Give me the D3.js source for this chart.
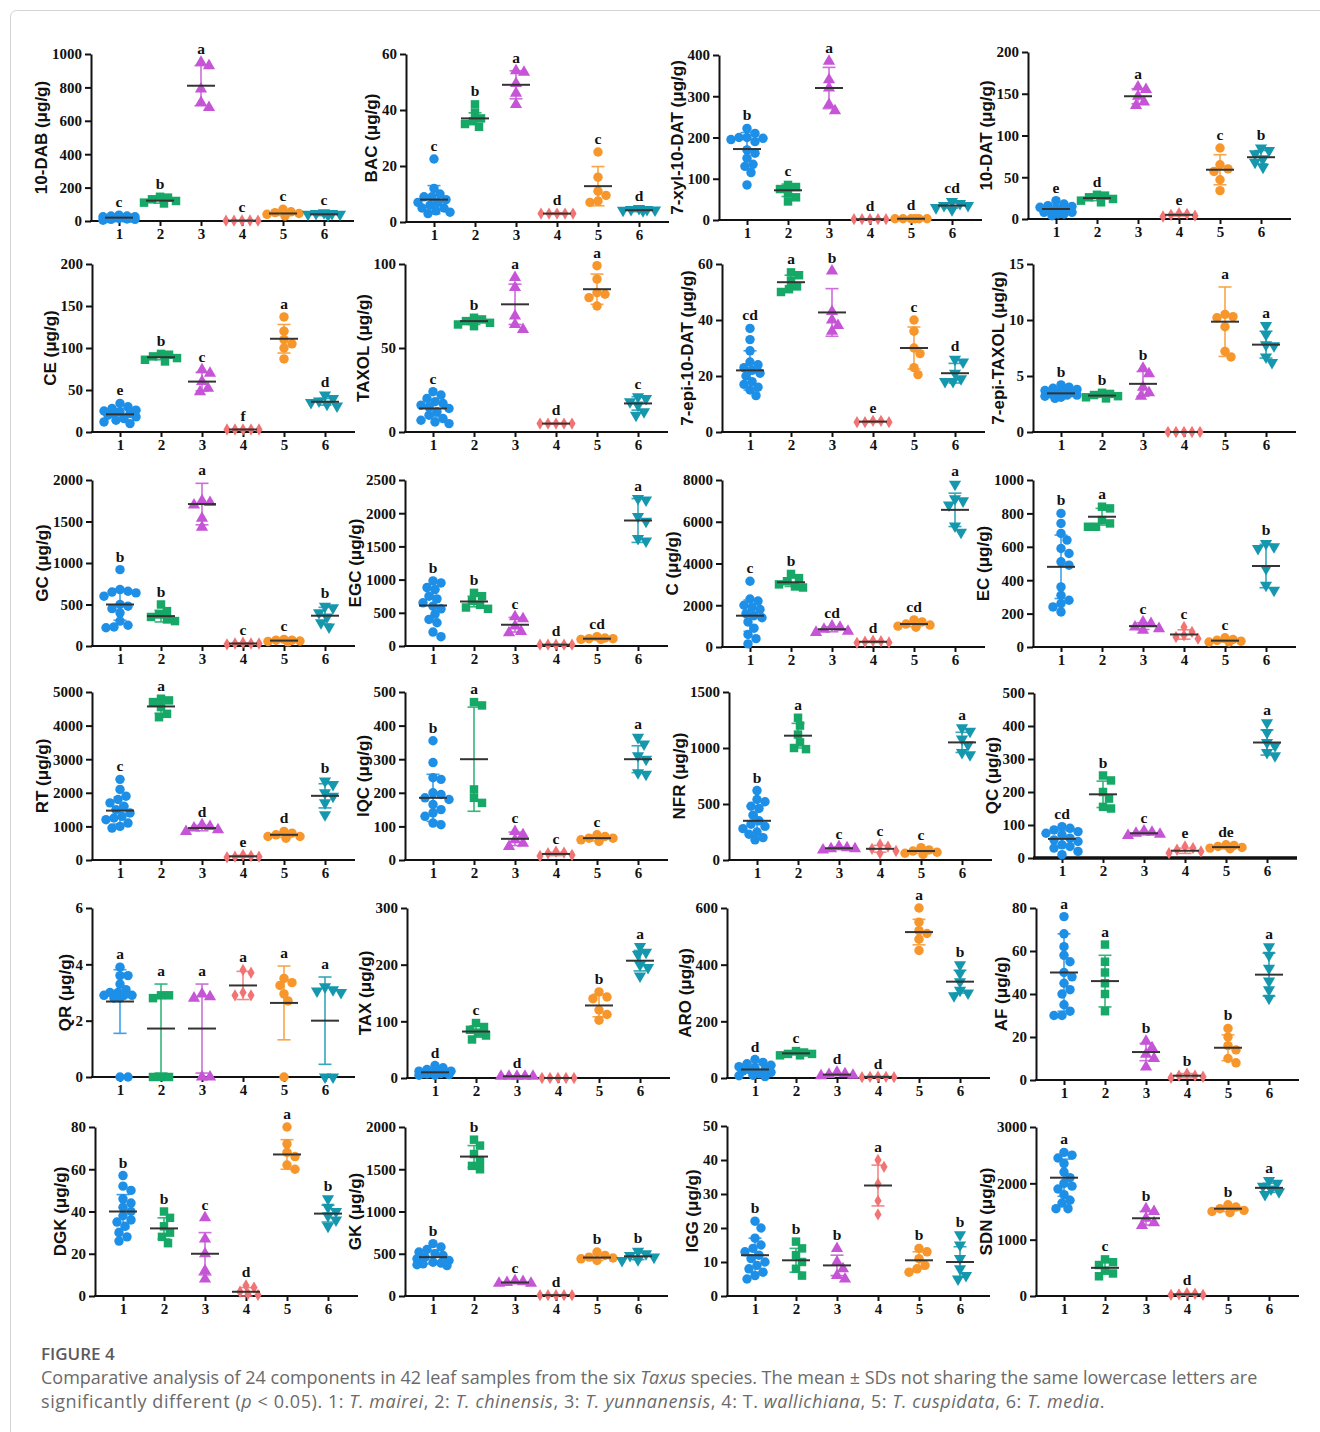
<!DOCTYPE html>
<html>
<head>
<meta charset="utf-8">
<script src="https://cdn.jsdelivr.net/npm/d3@7"></script>
<style>
body{margin:0;background:#fff;}
svg{display:block;}
</style>
</head>
<body>
<div id="vis"></div>
<script>
// six Taxus species (groups 1..6)
const groupLabels = ['1','2','3','4','5','6']
const groupColors = ['#1e8fe6','#16a866','#c654d6','#f27373','#f7962b','#1597ad']

const panelNames = ['10-DAB','BAC','7-xyl-10-DAT','10-DAT',
  'CE','TAXOL','7-epi-10-DAT','7-epi-TAXOL',
  'GC','EGC','C','EC',
  'RT','IQC','NFR','QC',
  'QR','TAX','ARO','AF',
  'DGK','GK','IGG','SDN']

const yTicks = [
  [0,200,400,600,800,1000],[0,20,40,60],[0,100,200,300,400],[0,50,100,150,200],
  [0,50,100,150,200],[0,50,100],[0,20,40,60],[0,5,10,15],
  [0,500,1000,1500,2000],[0,500,1000,1500,2000,2500],[0,2000,4000,6000,8000],[0,200,400,600,800,1000],
  [0,1000,2000,3000,4000,5000],[0,100,200,300,400,500],[0,500,1000,1500],[0,100,200,300,400,500],
  [0,2,4,6],[0,100,200,300],[0,200,400,600],[0,20,40,60,80],
  [0,20,40,60,80],[0,500,1000,1500,2000],[0,10,20,30,40,50],[0,1000,2000,3000]
]

const means = [
  [20,122,810,2,45,40],[8,37,49,3,12.8,4.2],[172,72,320,2,3,35],[12,25,147,5,59,74],
  [21,89,60,3,111,36],[14,66,76,5,85,17],[22,53.5,42.7,3.7,30,21],[3.45,3.25,4.3,0,9.85,7.8],
  [500,360,1710,30,65,365],[610,670,320,20,110,1890],[1500,3100,850,250,1100,6570],[480,780,125,75,38,485],
  [1470,4570,950,110,750,1910],[185,300,63,18,65,300],[350,1110,105,100,80,1050],[58,193,75,22,33,350],
  [2.68,1.72,1.72,3.25,2.63,2.0],[10,82,3,0,128,207],[30,87,12,4,515,340],[50,46,13,2,15,49],
  [40,32,20,2,67,39],[460,1650,160,10,455,470],[12,10.5,9,32.5,10.5,10],[2100,500,1380,30,1550,1920]
]

const sds = [
  [10,15,120,1,12,8],[5,2,5,0.3,7,0.5],[40,15,50,1,1,6],[5,3,9,1.5,18,8],
  [7,3,11,0.5,17,4],[5,2,12,0.3,9,4],[7,2.5,8.5,0.3,7.5,3.5],[0.4,0.15,1.1,0,3.1,1.2],
  [190,70,250,8,12,100],[240,80,110,5,15,330],[750,200,120,40,120,800],[190,50,20,28,9,130],
  [400,200,80,30,70,360],[70,155,20,5,8,40],[130,110,12,30,20,90],[25,40,5,8,5,38],
  [1.13,1.58,1.58,0.5,1.31,1.55],[5,10,0.5,0,20,18],[18,5,4,1,45,40],[18,12,4,1,6,10],
  [8,5,10,2,7,4],[80,130,12,2,35,40],[5,3.5,3,6,2.5,4.5],[330,100,120,15,50,80]
]

const letters = [
  ['c','b','a','c','c','c'],['c','b','a','d','c','d'],['b','c','a','d','d','cd'],['e','d','a','e','c','b'],
  ['e','b','c','f','a','d'],['c','b','a','d','a','c'],['cd','a','b','e','c','d'],['b','b','b','','a','a'],
  ['b','b','a','c','c','b'],['b','b','c','d','cd','a'],['c','b','cd','d','cd','a'],['b','a','c','c','c','b'],
  ['c','a','d','e','d','b'],['b','a','c','c','c','a'],['b','a','c','c','c','a'],['cd','b','c','e','de','a'],
  ['a','a','a','a','a','a'],['d','c','d','','b','a'],['d','c','d','d','a','b'],['a','a','b','b','b','a'],
  ['b','b','c','d','a','b'],['b','b','c','d','b','b'],['b','b','b','a','b','b'],['a','c','b','d','b','a']
]

// individual samples per panel, groups 1..6
const p10DAB = [[5,10,15,20,25,30,35,10,20,15,25,30,12,18],[105,110,120,130,140,145],[950,930,790,710,680],[2,3,2,3,2],[30,40,45,50,55,70],[35,40,45,50,40,45]]
const pBAC = [[22.5,12,10,9,8,7,6,5,4,3.5,3,5,7,9],[42,39,37,36,35,34],[54,53.5,49.5,46,42],[3,3,3,3,3],[25,16,11,9.5,7.5,7],[4.5,4,4.2,4.8,4.3,4.5]]
const p7xyl = [[222,210,200,198,195,190,170,162,150,135,130,115,85,200],[85,80,75,65,55,45],[385,340,320,280,265],[2,2,2,2,2],[3,3,3,3,3,3],[45,40,35,30,25,35]]
const p10DAT = [[22,18,16,14,12,10,8,6,4,12,15,10,8,6],[29,28,26,24,22,20],[158,155,147,140,136],[7,6,5,4,3],[85,65,60,57,47,34],[85,82,78,72,68,62]]
const pCE = [[34,30,28,26,24,22,20,18,16,14,12,10,22,25],[93,92,90,88,86,84],[74,70,60,52,48],[3,3,3,3,3],[137,120,110,105,100,87],[44,40,37,35,33,31]]
const pTAXOL = [[24,22,20,18,16,15,14,12,10,8,7,6,5,17],[68,67,66,65,64,63],[92,86,69,64,61],[5,5,5,5,5],[99,91,83,82,80,75],[21,20,18,16,12,10]]
const p7epi10 = [[37,33,29,25,24,23,22,21,20,18,17,16,15,13],[57,56,54,52,51,50],[57.5,43,40,38,36],[4,3.5,3.5,3.5,4],[40,36,30,28,23,20.5],[26,25,21,19,18,18]]
const p7epiTX = [[4.2,4.0,3.9,3.8,3.6,3.5,3.4,3.3,3.2,3.1,3.0,3.5,3.7,3.3],[3.5,3.4,3.3,3.2,3.1,3.0],[5.7,5.2,4.0,3.5,3.2],[0,0,0,0,0],[10.5,10.2,9.4,7.2,6.7,10.3],[9.5,8.7,7.8,7.7,6.7,6.2]]
const pGC = [[920,680,660,650,640,600,500,480,450,400,300,250,230,220],[500,420,380,350,320,300],[1750,1730,1700,1540,1430],[40,30,30,20,30],[80,70,60,55,50,70],[480,460,400,350,280,230]]
const pEGC = [[980,950,880,850,750,710,650,600,560,480,400,350,210,140],[800,750,680,620,580,560],[440,410,300,220,200],[20,20,20,20,20],[140,120,110,100,100,110],[2220,2200,1880,1620,1580,1950]]
const pC = [[3150,2300,2200,2000,1900,1800,1600,1500,1400,1200,900,600,400,150],[3500,3300,3150,3000,2900,2850],[1000,950,850,750,700],[300,280,250,220,200],[1300,1200,1100,1000,950,1050],[7800,7100,7000,6800,5800,5500]]
const pEC = [[800,740,680,640,590,560,510,490,360,310,280,260,240,210],[840,830,760,740,720,720],[150,140,120,110,100],[120,90,70,60,50],[55,45,40,35,30,30],[620,600,590,470,370,340]]
const pRT = [[2400,2100,1900,1800,1700,1600,1500,1400,1300,1250,1200,1100,1000,950],[4800,4750,4700,4550,4350,4250],[1050,1000,950,900,850],[150,120,100,80,100],[850,800,750,700,650,700],[2350,2250,2000,1900,1700,1350]]
const pIQC = [[355,290,245,240,200,195,185,180,165,150,140,130,110,105],[470,460,210,185,170],[85,75,60,50,40],[25,22,20,15,12],[75,70,65,60,55,65],[365,345,310,300,260,255]]
const pNFR = [[620,540,520,480,460,400,350,320,300,280,250,230,200,180],[1270,1200,1120,1050,1000,990],[120,110,100,100,90],[140,120,100,80,60],[110,90,80,70,50,60],[1180,1150,1080,1030,960,940]]
const pQC = [[95,90,85,80,75,70,60,55,50,40,35,30,20,10],[250,235,200,180,155,150],[82,78,75,72,68],[35,30,25,20,15],[40,38,35,30,28,32],[410,380,350,340,320,310]]
const pQR = [[3.9,3.6,3.6,3.3,3.1,3.0,3.0,2.9,2.9,2.9,2.8,2.8,0,0],[2.9,2.9,2.8,0,0,0],[2.95,2.85,2.8,0,0],[3.8,3.7,3.0,2.9,2.9],[3.5,3.35,3.25,2.95,2.7,0],[3.2,3.1,3.05,3.0,0,0]]
const pTAX = [[22,18,15,12,10,10,9,8,8,7,6,5,5,12],[97,90,85,80,75,68],[3,3,3,3,3],[0,0,0,0,0],[152,143,140,120,112,102],[232,222,218,200,195,180]]
const pARO = [[65,55,50,45,40,35,30,25,20,15,10,8,5,30],[95,90,85,85,80,80],[20,15,12,10,8],[5,4,4,3,3],[600,550,520,510,490,450],[400,370,340,310,300,290]]
const pAF = [[76,68,62,58,55,50,48,45,42,40,35,32,30,30],[63,55,50,45,40,32],[18,15,12,10,6],[3,2,2,1.5,1],[24,20,16,14,10,8],[62,58,52,46,42,38]]
const pDGK = [[57,52,50,46,44,42,40,38,36,35,33,30,28,26],[40,37,33,30,28,25],[37,27,20,12,8],[5,4,2,1,0.5],[80,72,68,66,62,60],[46,42,40,38,36,33]]
const pGK = [[620,580,550,520,500,480,460,440,420,400,390,380,370,360],[1850,1780,1680,1600,1540,1500],[180,170,160,150,150],[10,10,10,10,10],[520,480,460,440,420,450],[530,500,480,460,430,420]]
const pIGG = [[22,20,17,15,14,13,12,11,10,9,8,7,6,5],[16,14,12,10,8,6],[14,10,8,6,5],[40,38,33,28,24],[14,13,11,9,7,8],[18,15,11,8,6,5]]
const pSDN = [[2550,2500,2450,2350,2200,2100,2000,1950,1900,1800,1700,1650,1550,1550],[650,600,550,450,400,350],[1550,1500,1380,1300,1250],[50,40,30,20,20],[1620,1580,1550,1520,1500,1480],[2050,2000,1950,1900,1850,1800]]

const samples = [p10DAB,pBAC,p7xyl,p10DAT,pCE,pTAXOL,p7epi10,p7epiTX,pGC,pEGC,pC,pEC,
  pRT,pIQC,pNFR,pQC,pQR,pTAX,pARO,pAF,pDGK,pGK,pIGG,pSDN]

// ---- layout (page pixels) ----
const W = 1320, H = 1432
const axisX = [[91,406,719,1028],[92,405,722,1033],[92,405,722,1033],[92,405,729,1034],[92,407,727,1036],[95,405,727,1036]]
const topY = [[54,54,55,52],[264,264,264,264],[480,480,480,480],[692,692,692,693],[908,908,908,908],[1127,1127,1126,1127]]
const botY = [[221,222,220,219],[432,432,432,432],[646,646,647,647],[860,860,860,858],[1077,1078,1078,1080],[1296,1296,1296,1296]]
const firstTick = 28, tickStep = 41

const symbols = [d3.symbolCircle, d3.symbolSquare, d3.symbolTriangle, d3.symbolDiamond, d3.symbolCircle, d3.symbolTriangle]
const symSize = [70, 72, 64, 44, 70, 64]
const serif = "'Liberation Serif','Times New Roman',serif"
const sans = "'Liberation Sans',Arial,sans-serif"

const svg = d3.select('#vis').append('svg')
  .attr('width', W).attr('height', H)

svg.append('rect')
  .attr('x', 10.5).attr('y', 10.5)
  .attr('width', W).attr('height', H + 20)
  .attr('rx', 6)
  .attr('fill', 'none').attr('stroke', '#d4d4d4')

// simple deterministic swarm so that overlapping points spread sideways
function swarm(vals, y, cx, d){
  const order = vals.map((v, i) => ({v, i})).sort((a, b) => b.v - a.v)
  const offsets = [0]
  for (let s = 1; s <= 8; s++) offsets.push(s * 2, -s * 2)
  const placed = [], out = []
  order.forEach(o => {
    const py = y(o.v)
    let best = 0, bestScore = -1
    for (const dx of offsets) {
      let m = Infinity
      placed.forEach(p => { m = Math.min(m, Math.hypot(p.x - dx, p.y - py)) })
      if (m >= d) { best = dx; break }
      if (m > bestScore) { bestScore = m; best = dx }
    }
    placed.push({x: best, y: py})
    out[o.i] = {x: cx + best, y: py, v: o.v}
  })
  return out
}

function drawPanel(k){
  const r = Math.floor(k / 4), c = k % 4
  const x0 = axisX[r][c], top = topY[r][c], bottom = botY[r][c]
  const ticks = yTicks[k]

  const y = d3.scaleLinear().domain([0, ticks[ticks.length - 1]]).range([bottom, top])
  const x = d3.scalePoint().domain(groupLabels)
    .range([x0 + firstTick, x0 + firstTick + 5 * tickStep])

  const g = svg.append('g').attr('class', 'panel')

  // y axis
  const gy = g.append('g')
    .attr('transform', `translate(${x0},0)`)
    .call(d3.axisLeft(y).tickValues(ticks).tickSize(6).tickSizeOuter(0).tickPadding(3).tickFormat(d3.format('d')))
  // x axis
  const gx = g.append('g')
    .attr('transform', `translate(0,${bottom})`)
    .call(d3.axisBottom(x).tickSize(5).tickSizeOuter(0).tickPadding(2))
  gx.select('.domain').attr('d', `M${x0 - 1},0H${x('6') + 30}`)

  ;[gy, gx].forEach(a => {
    a.attr('font-family', null).attr('font-size', null)
    a.selectAll('path,line').attr('stroke', '#111').attr('stroke-width', 2)
    a.selectAll('text')
      .attr('fill', '#111')
      .style('font-family', serif)
      .style('font-weight', 'bold')
      .style('font-size', '15px')
  })
  if (k === 15) gx.select('.domain').attr('stroke-width', 3.5)

  // y title
  const bb = gy.node().getBBox()
  g.append('text')
    .attr('transform', `translate(${x0 + bb.x - 5},${(top + bottom) / 2}) rotate(-90)`)
    .attr('text-anchor', 'middle')
    .style('font-family', sans)
    .style('font-weight', 'bold')
    .style('font-size', '17px')
    .attr('fill', '#111')
    .text(panelNames[k] + ' (μg/g)')

  // groups
  groupLabels.forEach((lab, gi) => {
    const cx = x(lab)
    const col = groupColors[gi]
    const vals = samples[k][gi]
    const m = means[k][gi], s = sds[k][gi]
    const hi = y(m + s), lo = y(Math.max(0, m - s))

    const pts = swarm(vals, y, cx, 8)
    const sym = d3.symbol().type(symbols[gi]).size(symSize[gi])
    g.append('g').selectAll('path')
      .data(pts)
      .join('path')
      .attr('d', sym)
      .attr('transform', d => `translate(${d.x},${d.y})` + (gi === 5 ? ' rotate(180)' : ''))
      .attr('fill', col)

    // error bar
    const eb = g.append('g').attr('stroke', col).attr('stroke-width', 1.6).attr('opacity', 0.85)
    eb.append('line').attr('x1', cx).attr('x2', cx).attr('y1', hi).attr('y2', lo)
    eb.append('line').attr('x1', cx - 6.5).attr('x2', cx + 6.5).attr('y1', hi).attr('y2', hi)
    eb.append('line').attr('x1', cx - 6.5).attr('x2', cx + 6.5).attr('y1', lo).attr('y2', lo)

    // mean line
    g.append('line')
      .attr('x1', cx - 14).attr('x2', cx + 14)
      .attr('y1', y(m)).attr('y2', y(m))
      .attr('stroke', '#333').attr('stroke-width', 2)

    // significance letter
    const topPx = Math.min(hi, d3.min(pts, d => d.y))
    g.append('text')
      .attr('x', cx).attr('y', topPx - 8)
      .attr('text-anchor', 'middle')
      .style('font-family', serif)
      .style('font-weight', 'bold')
      .style('font-size', '15.5px')
      .attr('fill', '#111')
      .text(letters[k][gi])
  })
}

panelNames.forEach((n, k) => drawPanel(k))

// caption
const capFont = "'Open Sans','Noto Sans',sans-serif"
svg.append('text')
  .attr('x', 41).attr('y', 1360)
  .style('font-family', capFont)
  .style('font-size', '17px')
  .style('font-weight', 600)
  .attr('fill', '#5a5a5a')
  .text('FIGURE 4')

const line1 = [
  ['Comparative analysis of 24 components in 42 leaf samples from the six ', false],
  ['Taxus', true],
  [' species. The mean ± SDs not sharing the same lowercase letters are', false]
]
const line2 = [
  ['significantly different (', false], ['p', true], [' < 0.05). 1: ', false], ['T. mairei', true],
  [', 2: ', false], ['T. chinensis', true], [', 3: ', false], ['T. yunnanensis', true],
  [', 4: T. ', false], ['wallichiana', true], [', 5: ', false], ['T. cuspidata', true],
  [', 6: ', false], ['T. media', true], ['.', false]
]

function captionLine(parts, yPos){
  const t = svg.append('text')
    .attr('x', 41).attr('y', yPos)
    .style('font-family', capFont)
    .style('font-size', '16px')
    .attr('fill', '#6a6a6a')
  parts.forEach(p => {
    t.append('tspan').style('font-style', p[1] ? 'italic' : 'normal').text(p[0])
  })
  return t
}
const c1 = captionLine(line1, 1384)
const c2 = captionLine(line2, 1408)
const w1 = c1.node().getComputedTextLength()
const fs = 16 * 1217 / w1
c1.style('font-size', fs + 'px')
c2.style('font-size', fs + 'px')
// second line is wider in the reference typeface: open it up slightly
const w2 = c2.node().getComputedTextLength()
const n2 = line2.map(p => p[0]).join('').length
c2.style('letter-spacing', ((1064 - w2) / n2) + 'px')
</script>
</body>
</html>
